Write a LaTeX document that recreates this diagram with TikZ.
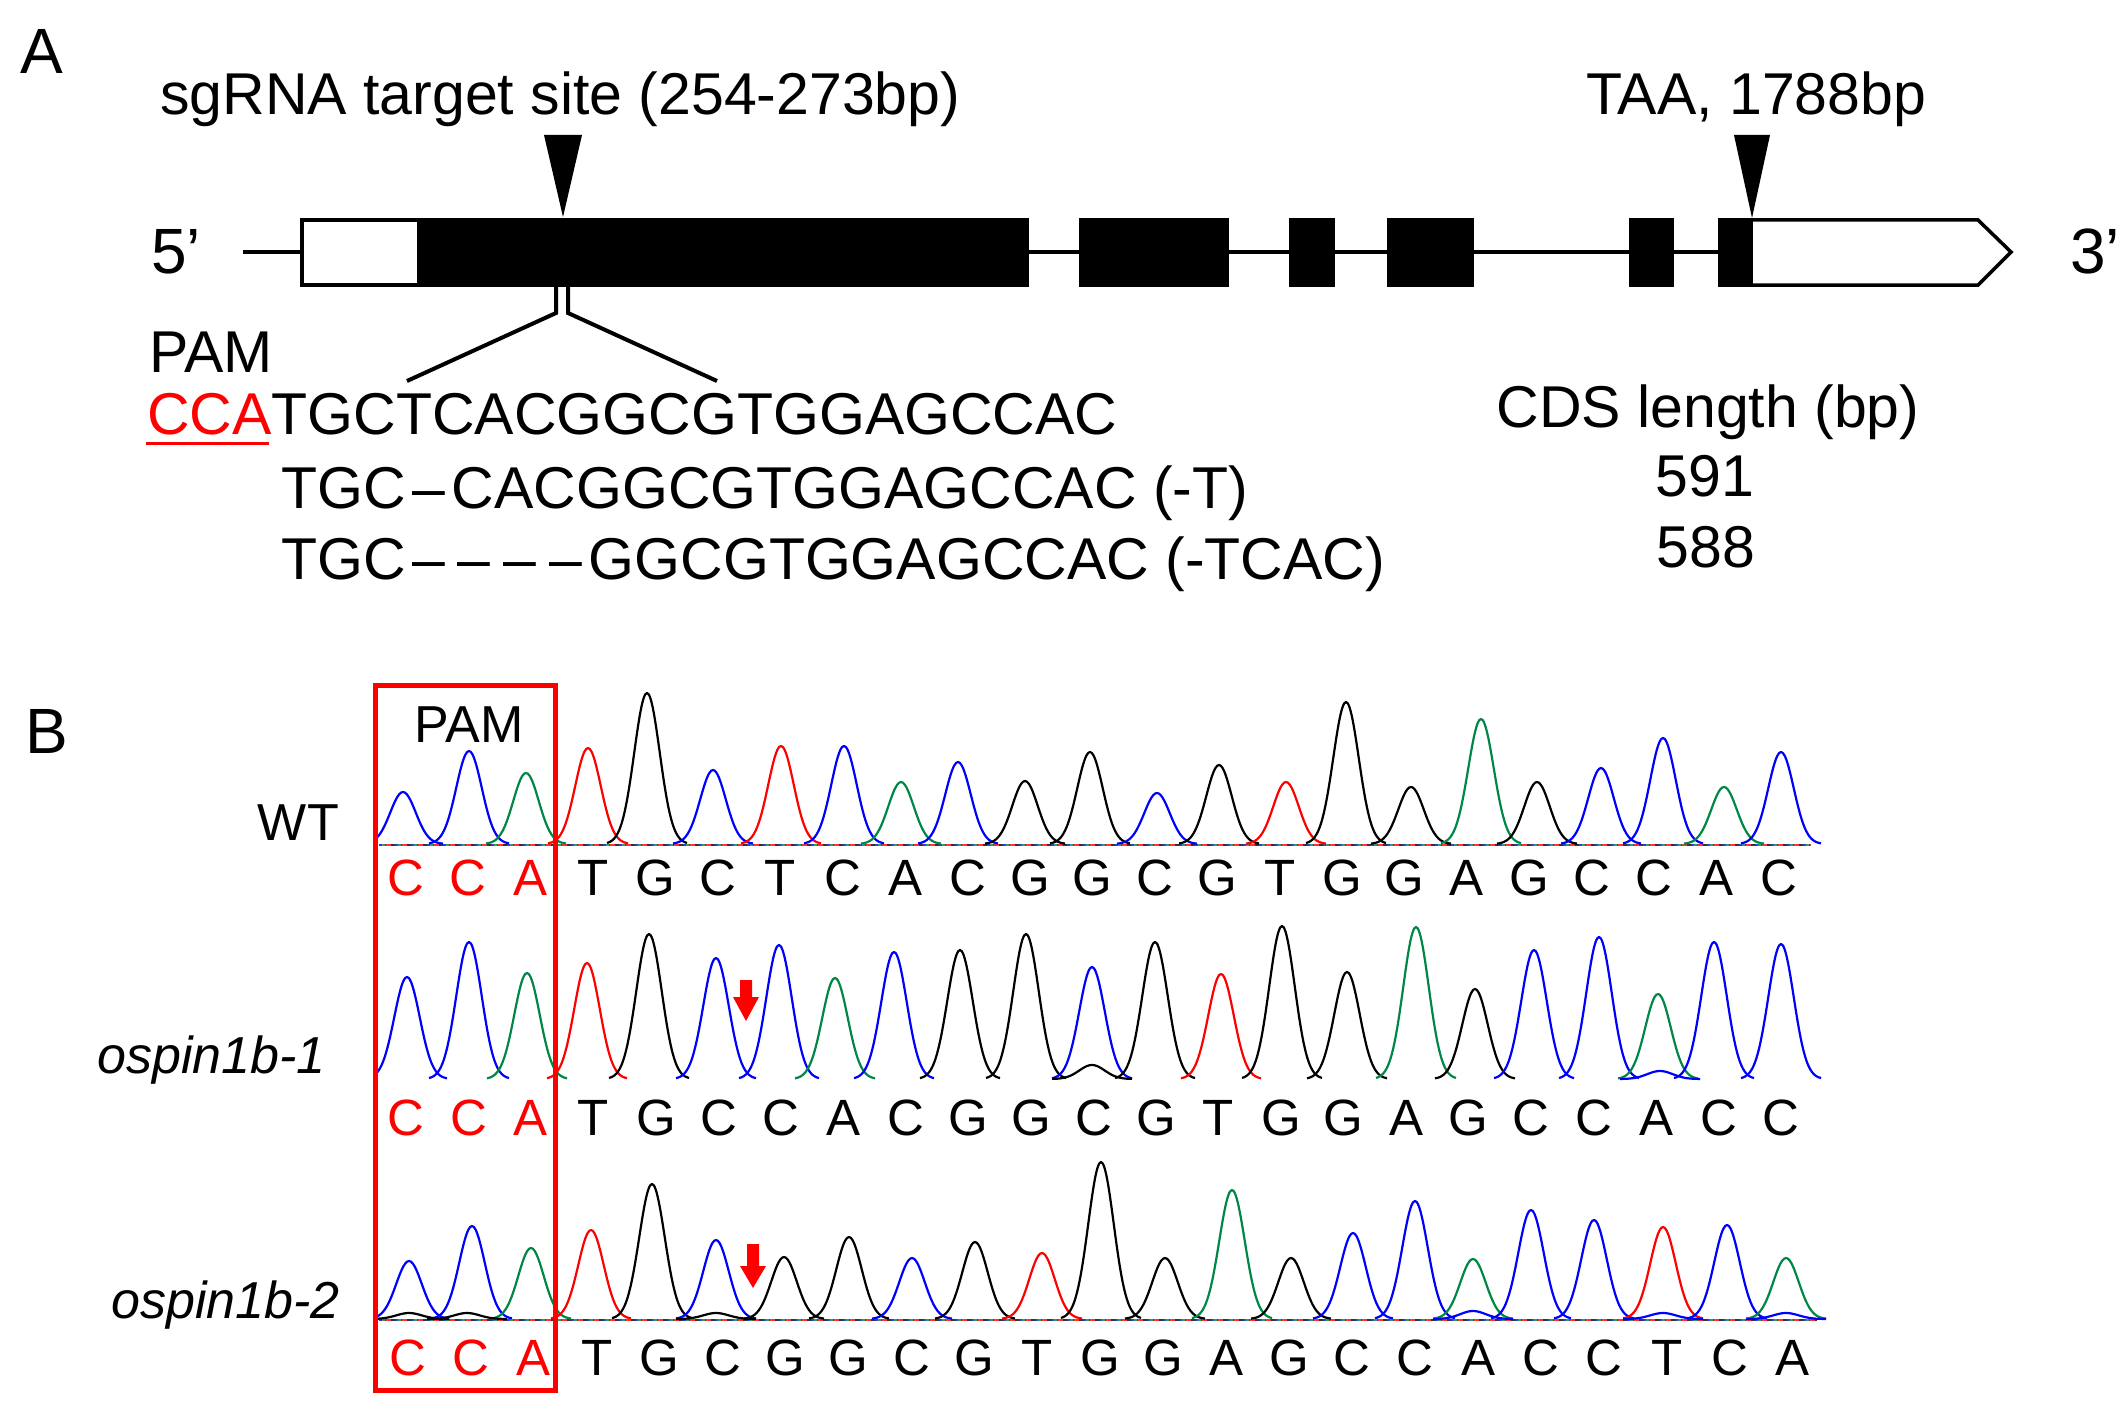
\documentclass[tikz,border=0pt]{standalone}
\usepackage{fontspec}
\setmainfont{Liberation Sans}
\definecolor{tgreen}{RGB}{0,135,70}
\definecolor{tblue}{RGB}{0,0,255}
\definecolor{tred}{RGB}{255,0,0}
\newcommand\peakat[4]{\draw[#4, line width=2.2, line join=round] plot[domain=-40:40, samples=45, smooth] ({#1+\x},{#2-#3*exp(-(\x/18)^2)});}
\newcommand\traceline[3]{%
  \draw[tblue!80, line width=1.6, dash pattern=on 7 off 9] (379,#1) -- (#2,#1);
  \draw[tred!80, line width=1.6, dash pattern=on 5 off 11, dash phase=9] (379,#1) -- (#2,#1);
  \draw[black!80, line width=1.6, dash pattern=on 4 off 12, dash phase=4] (379,#1) -- (#2,#1);
  \draw[tgreen!80, line width=1.6, dash pattern=on 3 off 13, dash phase=13] (379,#1) -- (#2,#1);}
\begin{document}
\begin{tikzpicture}[x=1pt,y=-1pt,
  txta/.style={inner sep=0, anchor=base west, font=\fontsize{59}{64}\selectfont},
  panel/.style={inner sep=0, anchor=base west, font=\fontsize{64}{70}\selectfont},
  lblb/.style={inner sep=0, font=\fontsize{52}{56}\selectfont},
  seq/.style={inner sep=0, anchor=base, font=\fontsize{51}{56}\selectfont},
  exon/.style={fill=black, draw=none},
  thick3/.style={line width=3.5}]
\useasboundingbox (0,0) rectangle (2128,1407);

% ---------------- Panel A ----------------
\node[panel] (labA) at (20,74) {A};
\node[txta] (sgrna) at (160,115) {sgRNA target site (254-273bp)};
\node[txta] (taa) at (1586,115) {TAA, 1788bp};
\node[panel] (five) at (151,273) {5’};
\node[panel] (three) at (2070,273) {3’};

% intron line
\coordinate (lstart) at (243,252);
\coordinate (lend) at (1760,252);
\draw[thick3] (lstart) -- (lend);
% exons
\draw[thick3, fill=white] (302,220) rectangle (419,285);
\fill[exon] (419,218.5) rectangle (1029,286.5);
\fill[exon] (1079,218.5) rectangle (1229,286.5);
\fill[exon] (1289,218.5) rectangle (1335,286.5);
\fill[exon] (1387,218.5) rectangle (1474,286.5);
\fill[exon] (1629,218.5) rectangle (1674,286.5);
\fill[exon] (1718,218.5) rectangle (1753,286.5);
\draw[thick3, fill=white, line join=miter] (1753,220) -- (1978,220) -- (2011,252) -- (1978,285) -- (1753,285);

% triangles
\fill (544,135) -- (582,135) -- (563,217) -- cycle;
\fill (1734,135) -- (1770,135) -- (1752,218) -- cycle;

% zoom-out lines
\coordinate (zl) at (407,381);
\coordinate (zr) at (717,381);
\draw[line width=4] (556,286) -- (556,313) -- (zl);
\draw[line width=4] (568,286) -- (568,313) -- (zr);

\node[txta] (pamA) at (149,372) {PAM};
\node[txta] (seq1) at (147,434) {\textcolor{tred}{CCA}TGCTCACGGCGTGGAGCCAC};
\draw[tred, line width=3] (146,443) -- (269,443);
\node[txta] (seq2) at (281,508) {TGC\makebox[46pt][c]{–}CACGGCGTGGAGCCAC (-T)};
\node[txta] (seq3) at (281,579) {TGC\makebox[45.75pt][c]{–}\makebox[45.75pt][c]{–}\makebox[45.75pt][c]{–}\makebox[45.75pt][c]{–}GGCGTGGAGCCAC (-TCAC)};
\node[txta, anchor=base] (cds) at (1708,427) {CDS length (bp)};
\node[txta, anchor=base] (n591) at (1705,496) {591};
\node[txta, anchor=base] (n588) at (1706,567) {588};

% ---------------- Panel B ----------------
\node[panel] (labB) at (25,753) {B};
\node[lblb, anchor=base] (pamB) at (469,742) {PAM};
\node[lblb, anchor=base east] (wt) at (339,840) {WT};
\node[lblb, anchor=base east] (m1) at (326,1073) {\itshape ospin1b-1};
\node[lblb, anchor=base east] (m2) at (340,1318) {\itshape ospin1b-2};

\begin{scope}
\clip (377,600) rectangle (1830,1340);
% baselines
\traceline{845}{1811}
\traceline{1080}{1813}
\traceline{1320}{1817}

% WT peaks
\foreach \px/\ph/\pc in {403/52/tblue, 469/93/tblue, 526/71/tgreen, 588/96/tred, 647/151/black, 713/74/tblue, 781/98/tred, 844/98/tblue, 901/62/tgreen, 958/82/tblue, 1025/63/black, 1090/92/black, 1157/51/tblue, 1219/79/black, 1286/62/tred, 1346/142/black, 1411/57/black, 1481/125/tgreen, 1537/62/black, 1601/76/tblue, 1663/106/tblue, 1724/57/tgreen, 1781/92/tblue}
  {\peakat{\px}{844}{\ph}{\pc}}
% ospin1b-1 peaks
\foreach \px/\ph/\pc in {407/102/tblue, 469/137/tblue, 527/106/tgreen, 587/116/tred, 649/145/black, 716/121/tblue, 779/134/tblue, 835/101/tgreen, 894/127/tblue, 960/129/black, 1026/145/black, 1092/112/tblue, 1155/137/black, 1221/105/tred, 1282/153/black, 1347/107/black, 1416/152/tgreen, 1475/90/black, 1534/129/tblue, 1599/142/tblue, 1658/85/tgreen, 1714/137/tblue, 1781/135/tblue}
  {\peakat{\px}{1079}{\ph}{\pc}}
\foreach \px/\ph/\pc in {1092/14/black, 1660/8/tblue}
  {\peakat{\px}{1079}{\ph}{\pc}}
% ospin1b-2 peaks
\foreach \px/\ph/\pc in {409/58/tblue, 472/93/tblue, 531/71/tgreen, 591/89/tred, 652/135/black, 716/79/tblue, 784/62/black, 849/82/black, 912/61/tblue, 975/77/black, 1042/66/tred, 1101/157/black, 1165/61/black, 1232/129/tgreen, 1291/61/black, 1353/86/tblue, 1415/118/tblue, 1473/60/tgreen, 1531/109/tblue, 1594/99/tblue, 1663/92/tred, 1727/94/tblue, 1786/61/tgreen}
  {\peakat{\px}{1319}{\ph}{\pc}}
\foreach \px/\ph/\pc in {409/6/black, 467/6/black, 716/6/black, 1473/8/tblue, 1663/6/tblue, 1786/6/tblue}
  {\peakat{\px}{1319}{\ph}{\pc}}
\end{scope}

% letters
\foreach \l [count=\i from 0] in {C,C,A}
  {\node[seq, text=tred] (wtp\i) at ({406+62.4*\i},895) {\l};
   \node[seq, text=tred] (mAp\i) at ({406+62.5*\i},1135) {\l};
   \node[seq, text=tred] (mBp\i) at ({408+62.95*\i},1375) {\l};}
\foreach \l [count=\i from 3] in {T,G,C,T,C,A,C,G,G,C,G,T,G,G,A,G,C,C,A,C}
  {\node[seq] (wts\i) at ({406+62.4*\i},895) {\l};}
\foreach \l [count=\i from 3] in {T,G,C,C,A,C,G,G,C,G,T,G,G,A,G,C,C,A,C,C}
  {\node[seq] (mAs\i) at ({406+62.5*\i},1135) {\l};}
\foreach \l [count=\i from 3] in {T,G,C,G,G,C,G,T,G,G,A,G,C,C,A,C,C,T,C,A}
  {\node[seq] (mBs\i) at ({408+62.95*\i},1375) {\l};}

% red arrows
\fill[tred] (740,980) -- (752,980) -- (752,997) -- (759,997) -- (746,1021) -- (733,997) -- (740,997) -- cycle;
\fill[tred] (747,1244) -- (759,1244) -- (759,1266) -- (766,1266) -- (753,1288) -- (740,1266) -- (747,1266) -- cycle;

% PAM box
\draw[tred, line width=5] (375,685) rectangle (555,1390);
\end{tikzpicture}
\end{document}
